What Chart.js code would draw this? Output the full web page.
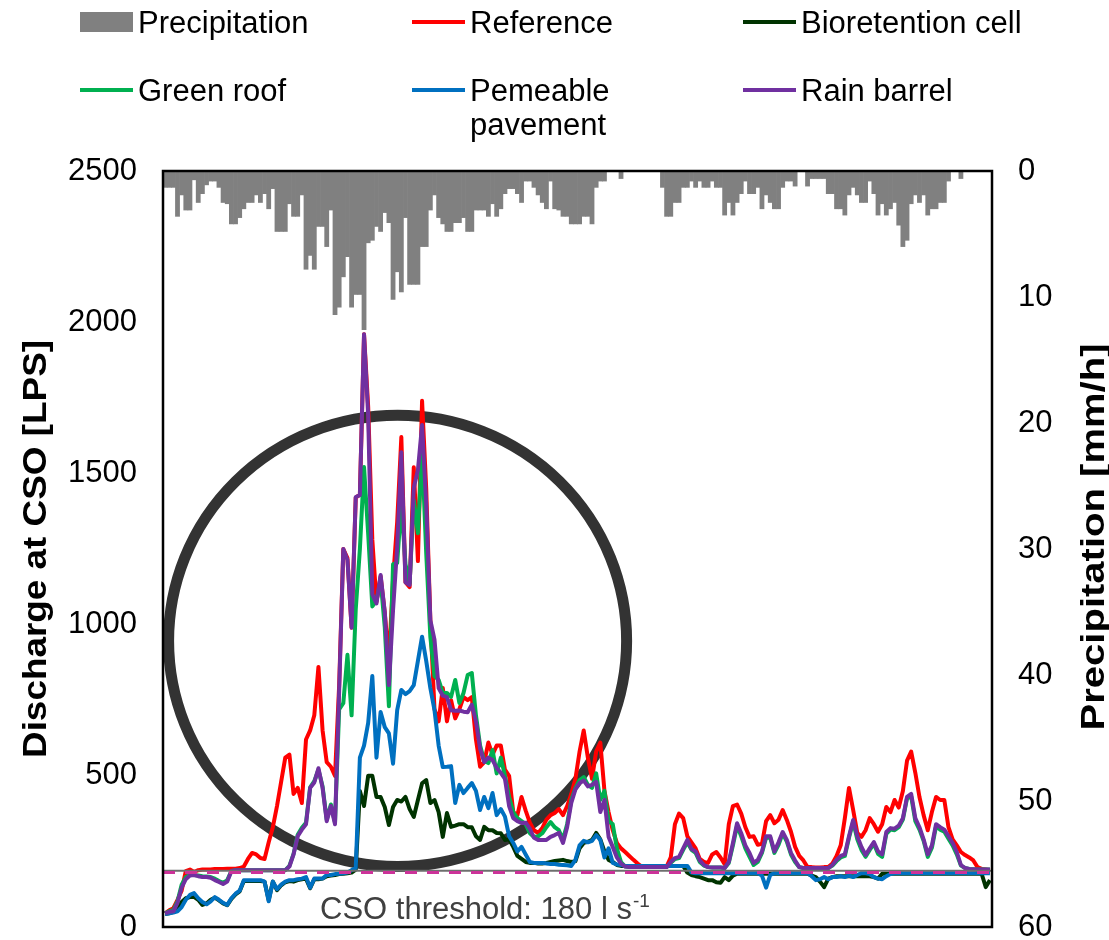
<!DOCTYPE html>
<html>
<head>
<meta charset="utf-8">
<script src="https://cdn.jsdelivr.net/npm/chart.js@4.4.1/dist/chart.umd.min.js"></script>
<style>
  html, body { margin: 0; padding: 0; background: #fff; overflow: hidden; }
  canvas { display: block; }
</style>
</head>
<body>
<canvas id="chart" width="1109" height="940"></canvas>
<script>
// precipitation per time step [mm/h], plotted downward from the top (right axis)
const precipitation = [
  1.3, 1.3, 1.3, 3.6, 1.9, 3.1, 3.1, 0.7, 2.5, 1.8,
  1.1, 0.8, 0.8, 1.3, 2.5, 2.6, 4.2, 4.2, 3.7, 3.0,
  2.5, 2.5, 1.9, 2.5, 1.8, 3.0, 1.4, 4.8, 4.8, 4.8,
  2.6, 3.6, 3.6, 1.9, 7.8, 6.7, 7.8, 4.4, 4.4, 6.0,
  3.1, 11.4, 10.8, 8.4, 6.8, 10.8, 9.8, 9.8, 12.6, 5.7,
  5.5, 4.4, 4.8, 3.3, 4.1, 10.2, 8.0, 9.6, 3.7, 9.0,
  9.0, 9.0, 6.0, 6.0, 3.1, 1.9, 3.7, 4.2, 4.8, 4.8,
  4.1, 4.1, 3.7, 4.8, 4.8, 3.1, 3.1, 3.1, 3.6, 2.6,
  3.6, 3.0, 1.8, 1.4, 1.4, 1.8, 2.5, 0.8, 0.8, 1.3,
  1.9, 2.5, 3.0, 0.8, 3.0, 3.1, 3.6, 3.6, 4.2, 4.2,
  4.2, 3.6, 3.6, 4.2, 1.3, 0.8, 0.8, 0, 0, 0,
  0.6, 0, 0, 0, 0, 0, 0, 0, 0, 0,
  1.3, 3.6, 3.6, 2.5, 2.5, 1.3, 1.3, 0.8, 1.3, 0.8,
  1.3, 1.3, 0.8, 1.3, 1.3, 3.5, 2.5, 3.5, 2.5, 1.8,
  0.8, 1.8, 1.8, 1.3, 3.0, 1.9, 2.5, 3.0, 3.0, 1.3,
  0.8, 0.8, 1.2, 0, 0, 1.2, 0.6, 0.6, 0.6, 0.6,
  1.8, 1.8, 3.0, 3.0, 3.5, 1.9, 1.3, 1.9, 2.5, 2.5,
  0.8, 1.8, 3.5, 2.6, 3.5, 3.0, 2.5, 4.3, 6.0, 5.5,
  2.6, 1.9, 2.5, 1.9, 3.5, 3.0, 3.0, 2.5, 2.5, 0.8,
  0, 0, 0.6, 0, 0, 0, 0, 0, 0, 0
]

// discharge at CSO [LPS]
const reference = [
  45, 55, 62, 90, 120, 185, 190, 182, 188, 190,
  190, 190, 192, 192, 192, 193, 193, 193, 195, 200,
  225, 245, 240, 228, 225, 280, 330, 400, 480, 560,
  570, 440, 460, 410, 620, 650, 700, 860, 650, 545,
  530, 500, 800, 1250, 1220, 990, 1420, 1430, 1960, 1720,
  1280, 1075, 1160, 1040, 880, 1150, 1340, 1620, 1140, 1124,
  1520, 1210, 1740, 1450, 1015, 720, 680, 790, 680, 750,
  690, 720, 760, 750, 760, 620, 530, 545, 610, 570,
  600, 600, 520, 500, 380, 370, 430, 385, 345, 320,
  311, 327, 355, 370, 377, 390, 370, 400, 440, 490,
  580, 650, 560, 490, 580, 610, 450, 380, 320, 278,
  260, 248, 235, 222, 210, 200, 198, 198, 198, 198,
  198, 200, 230, 340, 375, 360, 300, 280, 260, 225,
  215, 212, 240, 248, 230, 208, 340, 400, 405, 375,
  330, 298, 300, 272, 275, 350, 370, 343, 355, 387,
  354, 315, 265, 235, 220, 198, 198, 197, 197, 198,
  198, 210, 235, 270, 360, 460, 387, 311, 298, 320,
  360, 340, 315, 340, 397, 380, 420, 395, 450, 550,
  580, 510, 430, 370, 320, 380, 430, 420, 420, 330,
  290, 270, 248, 238, 230, 220, 198, 192, 190, 188
]

const bioretention = [
  43, 45, 50, 60, 83, 95, 99, 100, 90, 73,
  78, 90, 97, 88, 78, 72, 93, 108, 118, 152,
  152, 152, 152, 152, 150, 89, 150, 122, 138, 148,
  152, 150, 155, 158, 160, 128, 158, 158, 160, 168,
  170, 172, 175, 176, 178, 180, 190, 450, 400, 500,
  500, 430, 430, 397, 337, 397, 420, 415, 430, 390,
  364, 420, 475, 486, 410, 420, 380, 298, 377, 331,
  335, 340, 340, 330, 330, 300, 288, 331, 320, 320,
  311, 310, 288, 290, 265, 235, 225, 215, 212, 212,
  210, 210, 212, 215, 218, 220, 222, 218, 215, 218,
  260, 278, 282, 288, 311, 290, 250, 222, 215, 205,
  202, 202, 202, 202, 202, 202, 202, 202, 202, 202,
  202, 202, 202, 202, 202, 202, 180, 172, 168, 165,
  160, 155, 155, 148, 146, 165, 155, 170, 176, 176,
  176, 176, 176, 176, 176, 176, 176, 176, 176, 176,
  176, 176, 176, 176, 176, 176, 170, 165, 150, 132,
  160, 165, 168, 168, 168, 168, 168, 168, 168, 168,
  168, 165, 160, 176, 176, 176, 176, 176, 176, 176,
  176, 176, 176, 176, 176, 176, 176, 176, 176, 176,
  176, 176, 176, 176, 176, 176, 176, 176, 132, 155
]

const greenRoof = [
  45, 52, 56, 85, 140, 165, 172, 172, 170, 168,
  167, 165, 160, 152, 146, 155, 185, 188, 188, 188,
  188, 188, 188, 188, 188, 188, 188, 188, 188, 188,
  202, 242, 305, 328, 345, 462, 482, 520, 465, 355,
  405, 345, 720, 740, 900, 700, 1050, 1250, 1521, 1300,
  1060, 1080, 1147, 992, 730, 1200, 1204, 1400, 1200, 1137,
  1412, 1302, 1577, 1237, 959, 830, 817, 774, 774, 761,
  817, 741, 774, 833, 840, 700, 600, 550, 542, 585,
  508, 560, 500, 430, 380, 360, 350, 340, 310, 298,
  300, 310, 330, 347, 330, 320, 290, 340, 420, 460,
  486, 496, 470, 460, 508, 420, 450, 350, 340, 260,
  215, 200, 198, 198, 198, 198, 198, 198, 198, 198,
  198, 198, 212, 225, 228, 255, 280, 255, 245, 215,
  203, 198, 197, 197, 197, 195, 212, 270, 335, 300,
  260, 232, 205, 215, 245, 295, 295, 245, 272, 310,
  282, 240, 215, 198, 195, 195, 195, 195, 195, 195,
  195, 203, 218, 230, 235, 295, 348, 290, 255, 232,
  255, 275, 242, 232, 308, 322, 320, 330, 355, 425,
  432, 350, 322, 285, 232, 262, 333, 322, 315, 292,
  270, 240, 203, 195, 192, 191, 190, 190, 190, 190
]

const permeablePavement = [
  43, 45, 48, 52, 66, 90, 106, 112, 95, 83,
  75, 85, 99, 90, 80, 73, 95, 110, 120, 155,
  155, 155, 155, 155, 150, 85, 150, 125, 140, 150,
  155, 155, 158, 160, 165, 130, 160, 160, 160, 172,
  172, 175, 176, 178, 180, 188, 195, 560, 600, 675,
  830, 560, 711, 661, 640, 540, 717, 784, 770, 780,
  800, 880, 960, 880, 790, 717, 600, 529, 530, 532,
  410, 470, 443, 460, 476, 450, 387, 430, 393, 443,
  370, 390, 365, 300, 278, 250, 265, 240, 215, 212,
  212, 212, 210, 208, 208, 206, 205, 204, 202, 222,
  270, 285, 280, 285, 304, 288, 230, 260, 212, 207,
  205, 202, 202, 202, 202, 202, 202, 202, 202, 202,
  202, 202, 202, 202, 202, 202, 202, 180, 178, 178,
  178, 178, 178, 178, 178, 178, 178, 178, 178, 178,
  178, 178, 178, 178, 170, 130, 172, 178, 178, 178,
  178, 178, 178, 178, 178, 178, 168, 155, 158, 165,
  158, 165, 165, 168, 165, 170, 165, 172, 178, 178,
  175, 165, 160, 158, 168, 175, 178, 178, 178, 178,
  178, 178, 178, 178, 178, 178, 178, 178, 178, 178,
  178, 178, 178, 178, 178, 178, 178, 178, 178, 178
]

const rainBarrel = [
  45, 50, 52, 80, 130, 158, 170, 172, 168, 165,
  165, 163, 155, 149, 142, 150, 185, 188, 188, 188,
  188, 188, 188, 188, 188, 188, 188, 188, 188, 188,
  200, 240, 300, 322, 340, 460, 478, 525, 460, 350,
  400, 340, 780, 1250, 1214, 990, 1422, 1428, 1960, 1690,
  1100, 1070, 1164, 1042, 800, 1048, 1257, 1570, 1140, 1131,
  1452, 1511, 1660, 1400, 1015, 950, 790, 765, 760, 717,
  715, 716, 712, 710, 735, 680, 590, 545, 560, 552,
  526, 510, 490, 400, 360, 350, 344, 345, 325, 295,
  288, 288, 288, 298, 304, 311, 278, 330, 410, 455,
  476, 484, 465, 470, 480, 380, 420, 298, 265, 230,
  210, 200, 198, 198, 198, 198, 198, 198, 198, 198,
  198, 198, 215, 228, 232, 260, 288, 258, 250, 220,
  205, 198, 197, 197, 197, 195, 215, 278, 343, 310,
  270, 245, 212, 222, 250, 300, 300, 250, 280, 314,
  288, 245, 220, 198, 195, 195, 195, 195, 195, 195,
  195, 205, 222, 235, 240, 300, 354, 300, 265, 238,
  260, 281, 250, 240, 314, 327, 325, 335, 360, 430,
  440, 360, 330, 290, 240, 270, 340, 330, 322, 300,
  278, 248, 205, 195, 192, 191, 190, 190, 190, 190
]

const timeSteps = precipitation.map((_, i) => i + 1)
const dischargeTicks = [0, 500, 1000, 1500, 2000, 2500]
const precipitationTicks = [0, 10, 20, 30, 40, 50, 60]

const CSO_THRESHOLD = 180
const THRESHOLD_LINE = 186
// highlighted peak period (in time steps / LPS)
const highlight = { step: 56.1, value: 946, stepRadius: 55.25, valueRadius: 746 }

const FONT = '"Liberation Sans", Arial, Helvetica, sans-serif'

function drawStretched(ctx, text, cx, cy, length, font) {
  ctx.save()
  ctx.font = font
  const w = ctx.measureText(text).width
  ctx.translate(cx, cy)
  ctx.rotate(-Math.PI / 2)
  ctx.scale(length / w, 1)
  ctx.textAlign = 'center'
  ctx.textBaseline = 'middle'
  ctx.fillStyle = '#000'
  ctx.fillText(text, 0, 0)
  ctx.restore()
}

const decorations = {
  id: 'decorations',
  beforeDatasetsDraw(chart) {
    const { ctx, scales: { x, y } } = chart
    const cx = x.getPixelForValue(highlight.step)
    const cy = y.getPixelForValue(highlight.value)
    const rx = x.getPixelForValue(highlight.step + highlight.stepRadius) - cx
    const ry = cy - y.getPixelForValue(highlight.value + highlight.valueRadius)
    ctx.save()
    ctx.beginPath()
    ctx.ellipse(cx, cy, rx, ry, 0, 0, Math.PI * 2)
    ctx.lineWidth = 11
    ctx.strokeStyle = '#333333'
    ctx.stroke()
    ctx.restore()
  },
  afterDatasetsDraw(chart) {
    const { ctx, chartArea: a, scales: { y } } = chart
    ctx.save()
    const gy = y.getPixelForValue(THRESHOLD_LINE)
    ctx.strokeStyle = '#6e6e6e'
    ctx.lineWidth = 2
    ctx.beginPath(); ctx.moveTo(a.left, gy); ctx.lineTo(a.right, gy); ctx.stroke()
    const ty = y.getPixelForValue(CSO_THRESHOLD)
    ctx.strokeStyle = '#CC3399'
    ctx.lineWidth = 3
    ctx.setLineDash([12, 10])
    ctx.beginPath(); ctx.moveTo(a.left, ty); ctx.lineTo(a.right, ty); ctx.stroke()
    ctx.setLineDash([])
    // threshold label
    ctx.fillStyle = '#404040'
    ctx.font = '31px ' + FONT
    ctx.textBaseline = 'alphabetic'
    ctx.textAlign = 'left'
    const label = 'CSO threshold: ' + CSO_THRESHOLD + ' l s'
    ctx.fillText(label, 320, 919)
    const lw = ctx.measureText(label).width
    ctx.font = '19px ' + FONT
    ctx.fillText('-1', 320 + lw + 1, 907)
    ctx.restore()
  },
  afterDraw(chart) {
    const { ctx, chartArea: a, scales: { y, y2 } } = chart
    ctx.save()
    ctx.strokeStyle = '#000'
    ctx.lineWidth = 2.5
    ctx.strokeRect(a.left, a.top, a.right - a.left, a.bottom - a.top)

    // tick labels
    ctx.fillStyle = '#000'
    ctx.font = '31px ' + FONT
    ctx.textBaseline = 'middle'
    ctx.textAlign = 'right'
    dischargeTicks.forEach(v => ctx.fillText(String(v), a.left - 26, y.getPixelForValue(v)))
    ctx.textAlign = 'left'
    precipitationTicks.forEach(v => ctx.fillText(String(v), a.right + 26, y2.getPixelForValue(v)))

    drawStretched(ctx, 'Discharge at CSO [LPS]', 37, 549, 418, 'bold 34px ' + FONT)
    drawStretched(ctx, 'Precipitation [mm/h]', 1095, 537, 387, 'bold 34px ' + FONT)

    // legend, three columns by two rows
    const slots = [[80, 22], [412, 22], [743, 22], [80, 90], [412, 90], [743, 90]]
    ctx.font = '31px ' + FONT
    ctx.textAlign = 'left'
    ctx.textBaseline = 'alphabetic'
    chart.data.datasets.forEach((ds, i) => {
      const [lx, ly] = slots[i]
      if (ds.type === 'bar') {
        ctx.fillStyle = ds.backgroundColor
        ctx.fillRect(lx, ly - 10, 53, 20)
      } else {
        ctx.strokeStyle = ds.borderColor
        ctx.lineWidth = 4
        ctx.beginPath(); ctx.moveTo(lx, ly); ctx.lineTo(lx + 53, ly); ctx.stroke()
      }
      ctx.fillStyle = '#000'
      ds.label.split('\n').forEach((line, k) => {
        ctx.fillText(line, lx + 58, ly + 11 + k * 34)
      })
    })
    ctx.restore()
  }
}

function lineSet(label, data, color, order) {
  return {
    type: 'line', label, data, borderColor: color, backgroundColor: color,
    borderWidth: 4, pointRadius: 0, tension: 0, fill: false,
    borderJoinStyle: 'round', yAxisID: 'y', order
  }
}

const ctx = document.getElementById('chart').getContext('2d')
new Chart(ctx, {
  data: {
    labels: timeSteps,
    datasets: [
      {
        type: 'bar', label: 'Precipitation', data: precipitation,
        backgroundColor: '#808080', borderWidth: 0,
        barPercentage: 1, categoryPercentage: 1, yAxisID: 'y2', order: 10
      },
      lineSet('Reference', reference, '#FF0000', 5),
      lineSet('Bioretention cell', bioretention, '#003300', 4),
      lineSet('Green roof', greenRoof, '#00B050', 3),
      lineSet('Pemeable\npavement', permeablePavement, '#0070C0', 2),
      lineSet('Rain barrel', rainBarrel, '#7030A0', 1)
    ]
  },
  options: {
    responsive: false,
    animation: false,
    events: [],
    layout: { padding: { top: 171, bottom: 13, left: 0, right: 0 } },
    plugins: { legend: { display: false }, tooltip: { enabled: false } },
    scales: {
      x: { display: false, offset: true },
      y: {
        position: 'left', min: 0, max: 2500,
        ticks: { display: false, stepSize: 500 },
        grid: { display: false, drawTicks: false },
        border: { display: false },
        afterFit: (scale) => { scale.width = 163 }
      },
      y2: {
        position: 'right', min: 0, max: 60, reverse: true,
        ticks: { display: false, stepSize: 10 },
        grid: { display: false, drawTicks: false },
        border: { display: false },
        afterFit: (scale) => { scale.width = 117 }
      }
    }
  },
  plugins: [decorations]
})
</script>
</body>
</html>
